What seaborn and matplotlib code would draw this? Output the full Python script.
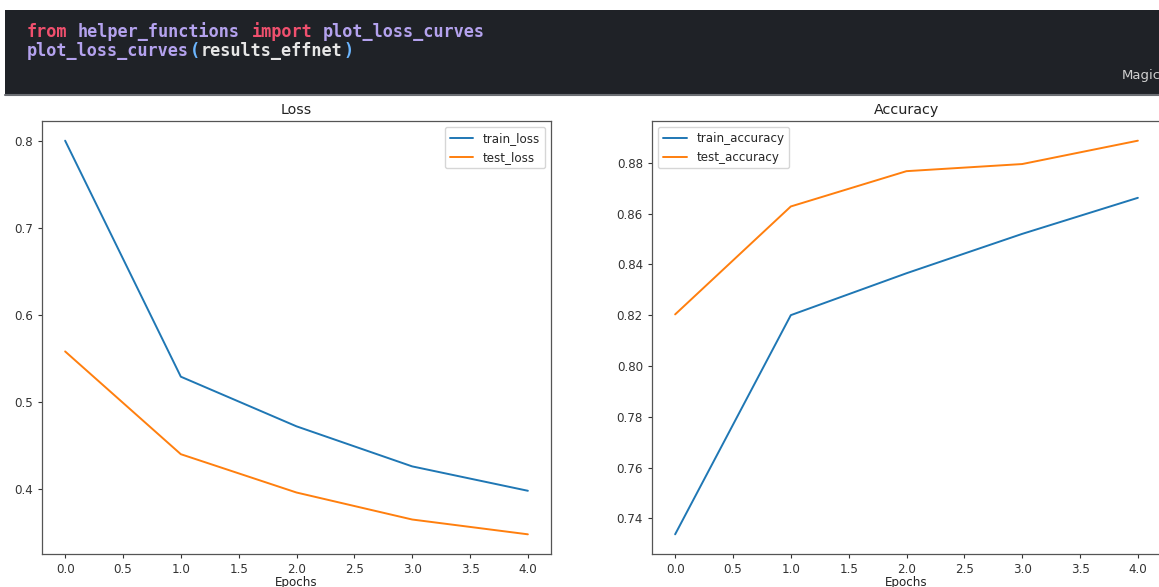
import numpy as np
import pandas as pd
import matplotlib
matplotlib.use("Agg")
import matplotlib.pyplot as plt
from matplotlib.patches import Rectangle
from matplotlib.lines import Line2D
import seaborn as sns

# values
epochs = [0, 1, 2, 3, 4]
train_loss = [0.800, 0.529, 0.472, 0.426, 0.398]
test_loss = [0.558, 0.440, 0.396, 0.365, 0.348]
train_acc = [0.7337, 0.8200, 0.8365, 0.8520, 0.8662]
test_acc = [0.8203, 0.8628, 0.8767, 0.8795, 0.8887]

code_line1 = [("from", "#f0506e"), (" ", "#e0e0e0"), ("helper_functions", "#b4a2ee"),
              (" ", "#e0e0e0"), ("import", "#f0506e"), (" ", "#e0e0e0"),
              ("plot_loss_curves", "#b4a2ee")]
code_line2 = [("plot_loss_curves", "#b4a2ee"), ("(", "#6cb6ff"),
              ("results_effnet", "#e6e6e6"), (")", "#6cb6ff")]

sns.set_style("ticks")
plt.rcParams['font.family'] = ['DejaVu Sans']

W, H = 1159, 587
fig = plt.figure(figsize=(W / 100, H / 100), dpi=100)
fig.patch.set_facecolor("white")

# notebook code cell banner
fig.patches.append(Rectangle((5 / W, (H - 94) / H), 1.0, 84 / H, transform=fig.transFigure,
                             facecolor="#1f2227", edgecolor="none", zorder=0))
fig.lines.append(Line2D([5 / W, 1.0], [(H - 94.5) / H] * 2, transform=fig.transFigure,
                        color="#6b6e73", lw=1.5))

fs_code = 12.2
char_px = 0.6021 * fs_code * 100 / 72
for line, ypix in [(code_line1, 32), (code_line2, 51)]:
    n = 0
    for tok, col in line:
        fig.text((27 + n * char_px) / W, (H - ypix) / H, tok, color=col, weight="bold",
                 family="DejaVu Sans Mono", fontsize=fs_code, va="center", ha="left")
        n += len(tok)
fig.text(1122 / W, (H - 75) / H, "Magic", color="#d0d0d0", fontsize=9.5, va="center", ha="left")

blue, orange = "#1f77b4", "#ff7f0e"
ax1 = fig.add_axes([42 / W, (H - 554) / H, 509 / W, 433 / H])
ax2 = fig.add_axes([652 / W, (H - 554) / H, 509 / W, 433 / H])

df_loss = pd.DataFrame({"epoch": epochs, "train_loss": train_loss, "test_loss": test_loss})
df_acc = pd.DataFrame({"epoch": epochs, "train_accuracy": train_acc, "test_accuracy": test_acc})

sns.lineplot(data=df_loss, x="epoch", y="train_loss", color=blue, lw=1.4, label="train_loss", ax=ax1)
sns.lineplot(data=df_loss, x="epoch", y="test_loss", color=orange, lw=1.4, label="test_loss", ax=ax1)
sns.lineplot(data=df_acc, x="epoch", y="train_accuracy", color=blue, lw=1.4, label="train_accuracy", ax=ax2)
sns.lineplot(data=df_acc, x="epoch", y="test_accuracy", color=orange, lw=1.4, label="test_accuracy", ax=ax2)

for ax, title, loc in [(ax1, "Loss", "upper right"), (ax2, "Accuracy", "upper left")]:
    ax.set_title(title, fontsize=10.3, color="#222222", pad=5)
    ax.set_xlabel("Epochs", fontsize=8.6, color="#222222", labelpad=0)
    ax.set_ylabel("")
    ax.set_xticks(np.arange(0, 4.01, 0.5))
    ax.tick_params(labelsize=8.6, colors="#333333", length=3, width=0.8)
    for sp in ax.spines.values():
        sp.set_color("#555555")
        sp.set_linewidth(0.9)
    ax.legend(loc=loc, fontsize=8.6, frameon=True, fancybox=True, framealpha=0.8,
              edgecolor="#cccccc", handlelength=2.0, borderpad=0.4)

ax1.set_yticks([0.4, 0.5, 0.6, 0.7, 0.8])
ax2.set_yticks([0.74, 0.76, 0.78, 0.80, 0.82, 0.84, 0.86, 0.88])

fig.savefig("out.png", dpi=100)
